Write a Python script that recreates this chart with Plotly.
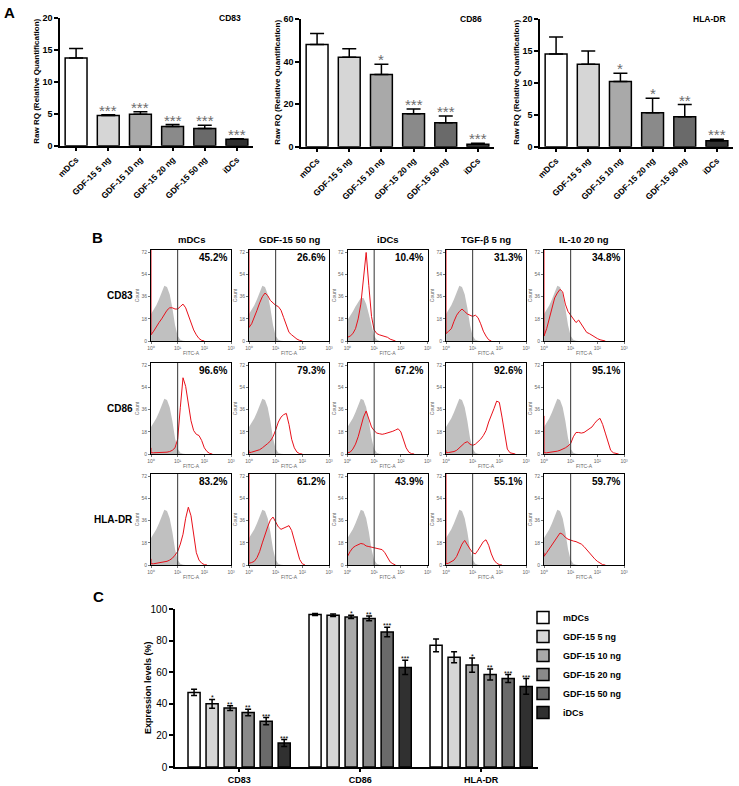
import plotly.graph_objects as go

W, H = 739, 786
FONT = "Liberation Sans, Arial, Helvetica, sans-serif"

# ---------------- data ----------------
CONDITIONS = ["mDCs", "GDF-15 5 ng", "GDF-15 10 ng", "GDF-15 20 ng", "GDF-15 50 ng", "iDCs"]
BAR_COLORS = ["#ffffff", "#d6d6d6", "#a9a9a9", "#8a8a8a", "#6a6a6a", "#303030"]

# Panel A (qPCR, Raw RQ)
A_MARKERS = ["CD83", "CD86", "HLA-DR"]
A_CD83 = [13.7, 4.7, 4.9, 3.0, 2.7, 1.0]
A_CD83_ERR = [1.5, 0.15, 0.4, 0.3, 0.5, 0.1]
A_CD83_SIG = ["", "***", "***", "***", "***", "***"]
A_CD86 = [48.0, 42.0, 33.9, 15.5, 11.3, 1.1]
A_CD86_ERR = [5.2, 4.0, 4.8, 2.2, 3.1, 0.5]
A_CD86_SIG = ["", "", "*", "***", "***", "***"]
A_HLA = [14.5, 12.9, 10.2, 5.3, 4.7, 0.95]
A_HLA_ERR = [2.7, 2.1, 1.3, 2.3, 1.9, 0.2]
A_HLA_SIG = ["", "", "*", "*", "**", "***"]
A_YMAX = [20, 60, 20]
A_DTICK = [5, 20, 5]

# Panel B (flow cytometry histograms)
B_COLUMNS = ["mDCs", "GDF-15 50 ng", "iDCs", "TGF-β 5 ng", "IL-10 20 ng"]
B_ROWS = ["CD83", "CD86", "HLA-DR"]
B_PCT_CD83 = ["45.2%", "26.6%", "10.4%", "31.3%", "34.8%"]
B_PCT_CD86 = ["96.6%", "79.3%", "67.2%", "92.6%", "95.1%"]
B_PCT_HLA = ["83.2%", "61.2%", "43.9%", "55.1%", "59.7%"]
HIST_LOG = [0.0, 0.1, 0.2, 0.3, 0.4, 0.5, 0.6, 0.7, 0.8, 0.9, 1.0, 1.1, 1.2, 1.3, 1.4,
            1.5, 1.6, 1.7, 1.8, 1.9, 2.0, 2.1, 2.2, 2.3, 2.4, 2.5, 2.6, 2.7, 2.8]
HIST_TICKS = [0, 1, 2, 3]
HIST_TICKTEXT = ["10⁰", "10¹", "10²", "10³"]
COUNT_TICKS = [0, 18, 36, 54, 72]
GATE_LOG = 1.0
ISO_COUNTS = [22, 25, 29, 34, 40, 45, 44, 38, 27, 13, 4, 1, 0.2, 0]
ISO_COUNTS_IDC_CD83 = [17, 20, 24, 28, 32, 35, 35, 30, 22, 12, 4, 1, 0]
RED_CD83 = [
    [5, 8, 12, 15, 18, 22, 25, 27, 27, 26, 26, 28, 30, 27, 21, 14, 9, 5, 2, 0.5, 0],
    [11, 14, 19, 25, 31, 36, 39, 37, 33, 31, 29, 28, 25, 19, 12, 7, 5, 3, 1.5, 0.5, 0],
    [3, 4, 6, 10, 18, 30, 50, 72, 45, 20, 9, 6, 5, 4.5, 4, 3, 1.5, 0.5, 0],
    [6, 8, 10, 16, 21, 24, 26, 24, 22, 21, 20, 21, 19, 14, 8, 4, 1, 0],
    [4, 10, 18, 28, 35, 39, 42, 40, 30, 24, 21, 18, 15, 17, 14, 10, 7, 6, 4.5, 3, 2, 1, 0.3, 0],
]
RED_CD86 = [
    [1, 1, 1, 1, 1, 1, 1.5, 2, 3, 5, 12, 38, 62, 55, 42, 27, 19, 16, 15, 11, 5, 2, 0.5, 0],
    [1, 1.5, 2, 2.5, 3.5, 5, 6.5, 8.5, 10.5, 14, 19.5, 26, 30, 32, 33, 24, 12, 5, 1.5, 0.3, 0],
    [1, 1.5, 4, 8, 14, 22, 30, 35, 28, 22, 19, 17, 16.5, 16, 16.5, 17, 18, 18.5, 19.5, 20.5, 18, 11, 5, 1.5, 0.3, 0],
    [1, 1.2, 1.5, 2, 3, 5, 7, 9, 10, 8, 7, 8, 10, 12, 15, 19, 26, 31, 37, 43, 42, 30, 15, 4, 1, 0.2, 0],
    [1, 1, 1.2, 1.4, 1.8, 2.3, 3, 3.8, 5, 6.5, 8.5, 14, 17.5, 17.5, 17, 17.5, 19, 20, 22, 25, 27.5, 29, 24, 17, 9, 3, 1, 0.3, 0],
]
RED_HLA = [
    [1, 1, 1.3, 1.6, 2, 2.3, 3, 4, 5.5, 8, 11, 17, 25, 38, 47, 40, 23, 10, 4, 1.5, 0.3, 0],
    [1.4, 2, 3, 6, 11, 18, 25, 31, 36.5, 39, 35, 31, 29, 30, 31, 32, 28, 20, 10.5, 4.5, 1, 0],
    [7, 11, 14, 15.5, 16.5, 17.5, 17, 15.5, 15, 14.5, 14, 13.5, 13, 12.5, 10, 6, 2.5, 1, 0],
    [1, 1.5, 2.5, 4, 7, 12, 17, 20, 16, 13, 10, 9, 12, 16, 19, 20.5, 16, 9, 4, 1.5, 0.3, 0],
    [7, 10, 13, 16, 20, 23, 26, 25, 22.5, 21, 20, 19.5, 19, 18, 17, 15, 12.5, 9.5, 7, 5, 3, 1.5, 0.3, 0],
]
FIRST_BIN_CD83 = [74, 74, 74, 74, 74]
FIRST_BIN_CD86 = [5, 3, 3, 3, 31]
FIRST_BIN_HLA = [5, 74, 74, 74, 10]

# Panel C (expression levels %)
C_MARKERS = ["CD83", "CD86", "HLA-DR"]
C_CD83 = [47.2, 40.0, 37.3, 34.5, 29.0, 15.2]
C_CD83_ERR = [2.0, 2.8, 1.5, 2.0, 2.3, 2.2]
C_CD83_SIG = ["", "*", "**", "**", "***", "***"]
C_CD86 = [96.5, 96.0, 95.0, 94.0, 85.5, 63.0]
C_CD86_ERR = [0.6, 0.8, 1.0, 1.5, 3.0, 4.5]
C_CD86_SIG = ["", "", "*", "**", "***", "***"]
C_HLA = [77.0, 69.5, 64.5, 58.5, 56.0, 51.0]
C_HLA_ERR = [4.0, 3.5, 4.5, 3.5, 2.5, 5.0]
C_HLA_SIG = ["", "", "*", "**", "***", "***"]

# ---------------- layout helpers ----------------
fig = go.Figure()
layout = dict(
    width=W, height=H, margin=dict(l=0, r=0, t=0, b=0, pad=0, autoexpand=False),
    paper_bgcolor="white", plot_bgcolor="white",
    font=dict(family=FONT, color="black"),
    barmode="group", showlegend=True,
)
annotations = []
shapes = []
_n = [0]


def new_axes(x0, x1, top, bottom, xax, yax):
    _n[0] += 1
    s = "" if _n[0] == 1 else str(_n[0])
    layout["xaxis" + s] = dict(domain=[x0 / W, x1 / W], anchor="y" + s, fixedrange=True,
                               automargin=False, **xax)
    layout["yaxis" + s] = dict(domain=[1 - bottom / H, 1 - top / H], anchor="x" + s, fixedrange=True,
                               automargin=False, **yax)
    return "x" + s, "y" + s


def bold(size, color="black"):
    return dict(family=FONT, size=size, color=color, weight="bold")


# ---------------- Panel A ----------------
A_VALUES = [A_CD83, A_CD86, A_HLA]
A_ERRS = [A_CD83_ERR, A_CD86_ERR, A_HLA_ERR]
A_SIGS = [A_CD83_SIG, A_CD86_SIG, A_HLA_SIG]
A_LEFT = [60, 301, 540]
A_TOP = [17.7, 19, 19]
A_BOTTOM = [145.7, 146.7, 146.7]
for i in range(3):
    xa, ya = new_axes(
        A_LEFT[i], A_LEFT[i] + 193, A_TOP[i], A_BOTTOM[i],
        dict(type="category", range=[-0.5, 5.5], showline=True, linecolor="black", linewidth=1.5,
             ticks="outside", ticklen=4, tickwidth=1.5, tickcolor="black", tickangle=-45,
             tickfont=bold(8.5), showgrid=False, zeroline=False),
        dict(range=[0, A_YMAX[i]], dtick=A_DTICK[i], showline=True, linecolor="black", linewidth=1.5,
             ticks="outside", ticklen=4, tickwidth=1.5, tickcolor="black",
             tickfont=bold(9), showgrid=False, zeroline=False),
    )
    fig.add_trace(go.Bar(
        x=CONDITIONS, y=A_VALUES[i], xaxis=xa, yaxis=ya, width=0.68,
        marker=dict(color=BAR_COLORS, line=dict(color="black", width=1.5)),
        error_y=dict(type="data", array=A_ERRS[i], arrayminus=[0] * 6, symmetric=False,
                     color="black", thickness=1.5, width=7),
        showlegend=False, hoverinfo="skip",
    ))
    annotations.append(dict(text="<b>%s</b>" % A_MARKERS[i], xref=xa + " domain", yref=ya + " domain",
                            x=0.88, y=1.0, xanchor="center", yanchor="middle", showarrow=False,
                            font=bold(8.5)))
    annotations.append(dict(text="<b>Raw RQ (Relative Quantification)</b>", xref="paper", yref="paper",
                            x=(A_LEFT[i] - 23) / W, y=1 - (A_TOP[i] + A_BOTTOM[i]) / 2 / H,
                            textangle=-90, showarrow=False, xanchor="center", yanchor="middle",
                            font=bold(8)))
    for j, s in enumerate(A_SIGS[i]):
        if s:
            annotations.append(dict(text=s, xref=xa, yref=ya, x=j, y=A_VALUES[i][j] + A_ERRS[i][j],
                                    yanchor="bottom", xanchor="center", yshift=-6, showarrow=False,
                                    font=dict(family=FONT, size=15, color="#6e6e6e")))

annotations.append(dict(text="<b>A</b>", xref="paper", yref="paper", x=2 / W, y=1 - 12 / H,
                        xanchor="left", yanchor="middle", showarrow=False, font=bold(15)))

# ---------------- Panel B ----------------
B_LEFT = [151, 249, 347.5, 446, 544]
B_TOP = [250, 363, 474]
BOX_W, BOX_H = 80, 91
B_RED = [RED_CD83, RED_CD86, RED_HLA]
B_PCT = [B_PCT_CD83, B_PCT_CD86, B_PCT_HLA]
B_FIRST = [FIRST_BIN_CD83, FIRST_BIN_CD86, FIRST_BIN_HLA]
small = dict(family=FONT, size=5, color="#666666")
for r in range(3):
    for c in range(5):
        xa, ya = new_axes(
            B_LEFT[c], B_LEFT[c] + BOX_W, B_TOP[r], B_TOP[r] + BOX_H,
            dict(range=[0, 3], tickvals=HIST_TICKS, ticktext=HIST_TICKTEXT, tickfont=small,
                 showline=True, mirror=True, linecolor="black", linewidth=1,
                 ticks="outside", ticklen=2, tickwidth=0.5, tickcolor="#777",
                 showgrid=False, zeroline=False,
                 title=dict(text="FITC-A", font=small, standoff=1)),
            dict(range=[0, 74], tickvals=COUNT_TICKS, tickfont=small,
                 showline=True, mirror=True, linecolor="black", linewidth=1,
                 ticks="outside", ticklen=2, tickwidth=0.5, tickcolor="#777",
                 showgrid=False, zeroline=False,
                 title=dict(text="Count", font=small, standoff=1)),
        )
        iso = ISO_COUNTS_IDC_CD83 if (r == 0 and c == 2) else ISO_COUNTS
        fig.add_trace(go.Scatter(
            x=HIST_LOG[:len(iso)], y=iso, xaxis=xa, yaxis=ya, mode="lines",
            line=dict(width=0, color="#c0c0c0"), fill="tozeroy", fillcolor="#c0c0c0",
            showlegend=False, hoverinfo="skip",
        ))
        red = B_RED[r][c]
        fig.add_trace(go.Scatter(
            x=[0.0] + HIST_LOG[:len(red)], y=[B_FIRST[r][c]] + red, xaxis=xa, yaxis=ya,
            mode="lines", line=dict(width=1, color="#e8101a"), cliponaxis=True,
            showlegend=False, hoverinfo="skip",
        ))
        shapes.append(dict(type="line", xref=xa, yref=ya + " domain", x0=GATE_LOG, x1=GATE_LOG,
                           y0=0, y1=1, line=dict(color="#333333", width=1)))
        annotations.append(dict(text="<b>%s</b>" % B_PCT[r][c], xref=xa + " domain", yref=ya + " domain",
                                x=0.97, y=0.92, xanchor="right", yanchor="middle", showarrow=False,
                                font=bold(10)))
        if r == 0:
            annotations.append(dict(text="<b>%s</b>" % B_COLUMNS[c], xref=xa + " domain",
                                    yref=ya + " domain", x=0.5, y=1, yshift=11, xanchor="center",
                                    yanchor="middle", showarrow=False, font=bold(9.5)))
    annotations.append(dict(text="<b>%s</b>" % B_ROWS[r], xref="paper", yref="paper", x=135 / W,
                            y=1 - (B_TOP[r] + BOX_H / 2) / H, xanchor="right", yanchor="middle",
                            showarrow=False, font=bold(10)))

annotations.append(dict(text="<b>B</b>", xref="paper", yref="paper", x=90 / W, y=1 - 237 / H,
                        xanchor="left", yanchor="middle", showarrow=False, font=bold(15)))

# ---------------- Panel C ----------------
xa, ya = new_axes(
    175, 538, 609, 767,
    dict(type="category", range=[-0.53, 2.47], showline=True, linecolor="black", linewidth=1.5,
         ticks="outside", ticklen=3, tickwidth=1.5, tickcolor="black",
         tickfont=bold(9), showgrid=False, zeroline=False),
    dict(range=[0, 100], dtick=20, showline=True, linecolor="black", linewidth=1.5,
         ticks="outside", ticklen=4, tickwidth=1.5, tickcolor="black",
         tickfont=dict(family=FONT, size=10, color="black"), showgrid=False, zeroline=False),
)
C_VALUES = [C_CD83, C_CD86, C_HLA]
C_ERRS = [C_CD83_ERR, C_CD86_ERR, C_HLA_ERR]
C_SIGS = [C_CD83_SIG, C_CD86_SIG, C_HLA_SIG]
SLOT = 0.149
BW = 0.1
for i, cond in enumerate(CONDITIONS):
    off = -3 * SLOT + i * SLOT + (SLOT - BW) / 2
    ys = [C_VALUES[m][i] for m in range(3)]
    es = [C_ERRS[m][i] for m in range(3)]
    fig.add_trace(go.Bar(
        x=C_MARKERS, y=ys, xaxis=xa, yaxis=ya, name=cond, width=BW, offset=off,
        marker=dict(color=BAR_COLORS[i], line=dict(color="black", width=1.5)),
        error_y=dict(type="data", array=es, color="black", thickness=1.5, width=3),
        hoverinfo="skip",
    ))
    for m in range(3):
        s = C_SIGS[m][i]
        if s:
            annotations.append(dict(text=s, xref=xa, yref=ya, x=m + off + BW / 2, y=ys[m] + es[m],
                                    yanchor="bottom", xanchor="center", yshift=-4, showarrow=False,
                                    font=dict(family=FONT, size=7, color="black")))

annotations.append(dict(text="<b>Expression levels (%)</b>", xref="paper", yref="paper", x=148 / W,
                        y=1 - 688 / H, textangle=-90, showarrow=False, xanchor="center",
                        yanchor="middle", font=bold(9)))
annotations.append(dict(text="<b>C</b>", xref="paper", yref="paper", x=91 / W, y=1 - 596 / H,
                        xanchor="left", yanchor="middle", showarrow=False, font=bold(15)))

layout["legend"] = dict(x=523 / W, y=1 - 603 / H, xanchor="left", yanchor="top",
                        font=bold(9), bgcolor="rgba(0,0,0,0)", tracegroupgap=0,
                        itemclick=False, itemdoubleclick=False)
layout["annotations"] = annotations
layout["shapes"] = shapes
fig.update_layout(**layout)
fig.write_html(
    "out.html",
    config={"displayModeBar": False, "staticPlot": False},
    post_script="document.body.style.margin='0';document.body.style.overflow='hidden';",
)
